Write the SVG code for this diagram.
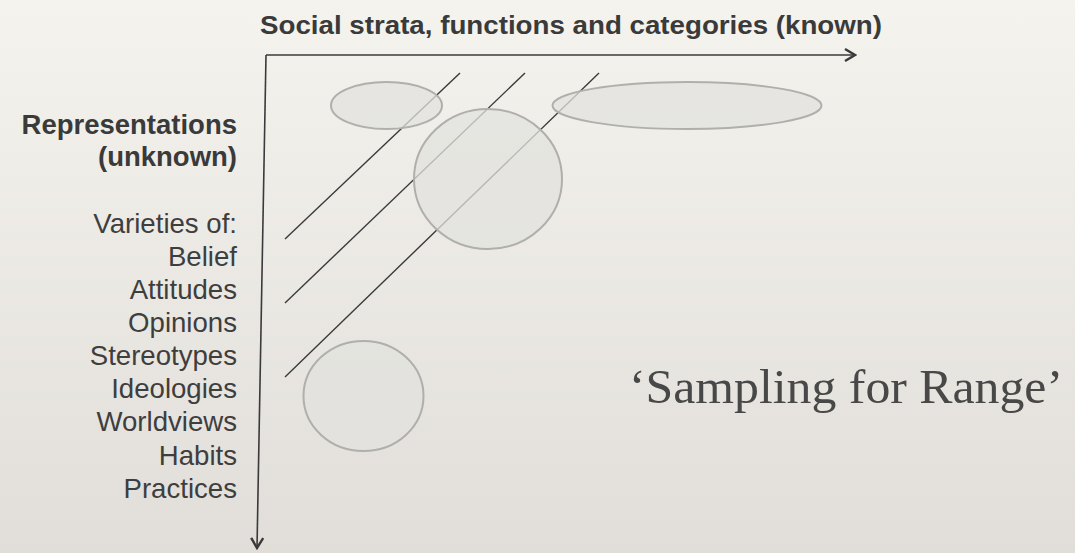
<svg xmlns="http://www.w3.org/2000/svg" width="1075" height="553" viewBox="0 0 1075 553">
  <defs>
    <linearGradient id="bg" x1="0" y1="0" x2="0" y2="1">
      <stop offset="0" stop-color="#f5f3ee"/>
      <stop offset="1" stop-color="#e1ded9"/>
    </linearGradient>
    <marker id="chev" viewBox="0 0 14 14" refX="12" refY="7" markerWidth="14" markerHeight="14" markerUnits="userSpaceOnUse" orient="auto">
      <path d="M2,1 L12,7 L2,13" fill="none" stroke="#3a3a3a" stroke-width="2.4"/>
    </marker>
    <style>
      .axis { stroke: #3a3a3a; stroke-width: 1.6; fill: none; }
      .diag { stroke: #3a3a3a; stroke-width: 1.4; fill: none; }
      .blob { fill: #e2e1de; fill-opacity: 0.75; stroke: #b0afab; stroke-width: 2; }
      .head { font-family: "Liberation Sans", Arial, sans-serif; font-weight: bold; fill: #3a3a3a; }
      .item { font-family: "Liberation Sans", Arial, sans-serif; font-size: 27.6px; fill: #3e3e3e; text-anchor: end; }
      .motto { font-family: "Liberation Serif", "Times New Roman", serif; font-size: 48px; fill: #484848; }
    </style>
  </defs>

  <rect width="1075" height="553" fill="url(#bg)"/>

  <!-- axes and diagonal strata lines -->
  <g id="connectors">
    <path class="axis" d="M266,55 L855,55" marker-end="url(#chev)"/>
    <path class="axis" d="M266,55 L257,548" marker-end="url(#chev)"/>
    <line class="diag" x1="285" y1="239" x2="460" y2="73"/>
    <line class="diag" x1="285" y1="303" x2="525" y2="73"/>
    <line class="diag" x1="285" y1="377" x2="599" y2="73"/>
  </g>

  <!-- sampled clusters -->
  <g id="cluster-top-left"><ellipse class="blob" cx="386.5" cy="105.5" rx="55.5" ry="23.5"/></g>
  <g id="cluster-centre"><ellipse class="blob" cx="488" cy="179" rx="74" ry="70"/></g>
  <g id="cluster-top-right"><ellipse class="blob" cx="687" cy="105.5" rx="134.5" ry="23.5"/></g>
  <g id="cluster-lower"><ellipse class="blob" cx="363.5" cy="396" rx="60" ry="55"/></g>

  <!-- axis titles -->
  <g id="x-title">
    <text class="head" x="571" y="33.5" font-size="25" text-anchor="middle" textLength="622" lengthAdjust="spacingAndGlyphs">Social strata, functions and categories (known)</text>
  </g>
  <g id="y-title">
    <text class="head" x="237" y="133.5" font-size="27.5" text-anchor="end">Representations</text>
    <text class="head" x="237" y="166" font-size="27.5" text-anchor="end">(unknown)</text>
  </g>

  <!-- list of representation varieties -->
  <g id="varieties">
    <text class="item" x="237" y="232.5">Varieties of:</text>
    <text class="item" x="237" y="266">Belief</text>
    <text class="item" x="237" y="299">Attitudes</text>
    <text class="item" x="237" y="332">Opinions</text>
    <text class="item" x="237" y="365">Stereotypes</text>
    <text class="item" x="237" y="398">Ideologies</text>
    <text class="item" x="237" y="431">Worldviews</text>
    <text class="item" x="237" y="464.5">Habits</text>
    <text class="item" x="237" y="497.5">Practices</text>
  </g>

  <g id="motto">
    <text class="motto" x="629" y="403" textLength="434" lengthAdjust="spacingAndGlyphs">‘Sampling for Range’</text>
  </g>
</svg>
